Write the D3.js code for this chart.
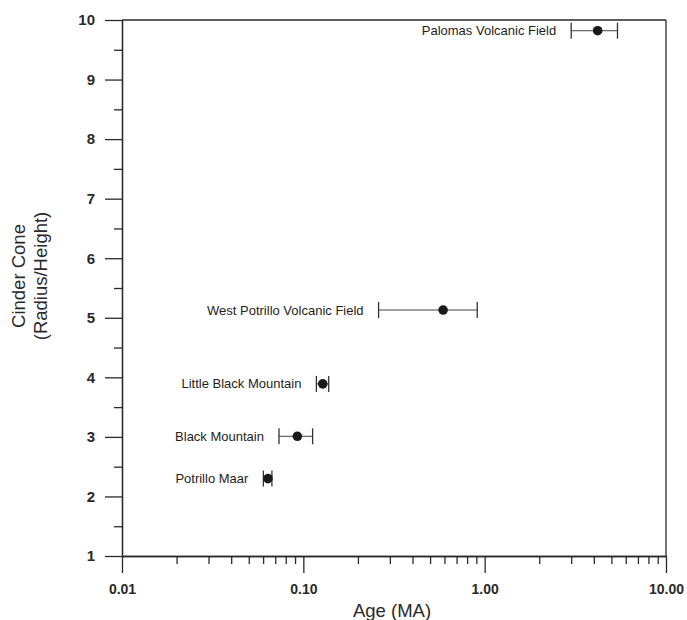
<!DOCTYPE html>
<html><head><meta charset="utf-8">
<script src="https://cdn.jsdelivr.net/npm/d3@7"></script>
<style>body{margin:0;background:#fff}svg{display:block}</style>
</head><body><svg id="c" width="687" height="620"></svg>
<script>
const names = ["Palomas Volcanic Field","West Potrillo Volcanic Field","Little Black Mountain","Black Mountain","Potrillo Maar"];
const ratio = [9.82, 5.13, 3.89, 3.01, 2.30];
const age = [4.2, 0.59, 0.128, 0.0927, 0.0638];
const ageLow = [3.0, 0.26, 0.118, 0.0734, 0.0602];
const ageHigh = [5.4, 0.91, 0.138, 0.1125, 0.0671];
const xMajor = [0.01, 0.1, 1, 10];
const xMajorLabels = ["0.01","0.10","1.00","10.00"];
const yMajor = [1,2,3,4,5,6,7,8,9,10];
const yMinor = [1.5,2.5,3.5,4.5,5.5,6.5,7.5,8.5,9.5];

const svg = d3.select("#c");
const x = d3.scaleLog().domain([0.01, 10]).range([122, 666]);
const y = d3.scaleLinear().domain([1, 10]).range([556, 20]);
const ink = "#2a2a2a";
const font = "Liberation Sans, Arial, sans-serif";

const xMinor = [];
[0.01, 0.1, 1].forEach(d => { for (let k = 2; k <= 9; k++) xMinor.push(d * k); });

// frame top & right
svg.append("line").attr("x1", x.range()[0]).attr("x2", x.range()[1]).attr("y1", y(10)).attr("y2", y(10)).attr("stroke", ink).attr("stroke-width", 1.3);
svg.append("line").attr("x1", x.range()[1]).attr("x2", x.range()[1]).attr("y1", y(10)).attr("y2", y(1)).attr("stroke", ink).attr("stroke-width", 1.3);

function style(g) {
  g.selectAll("path.domain").attr("stroke", ink).attr("stroke-width", 1.3);
  g.selectAll(".tick line").attr("stroke", ink).attr("stroke-width", 1.3);
  g.selectAll(".tick text").attr("fill", ink).attr("font-family", font).attr("font-weight", "bold");
}

// x axis
const gxMin = svg.append("g").attr("transform", `translate(0,${y(1)})`)
  .call(d3.axisBottom(x).tickValues(xMinor).tickSize(8).tickSizeOuter(0).tickFormat(""));
style(gxMin);
const gx = svg.append("g").attr("transform", `translate(0,${y(1)})`)
  .call(d3.axisBottom(x).tickValues(xMajor).tickSize(17).tickSizeOuter(0).tickPadding(11)
    .tickFormat((d, i) => xMajorLabels[i]));
style(gx);
gx.selectAll(".tick text").attr("font-size", 14);

// y axis
const gyMin = svg.append("g").attr("transform", `translate(${x(0.01)},0)`)
  .call(d3.axisLeft(y).tickValues(yMinor).tickSize(8).tickSizeOuter(0).tickFormat(""));
style(gyMin);
const gy = svg.append("g").attr("transform", `translate(${x(0.01)},0)`)
  .call(d3.axisLeft(y).tickValues(yMajor).tickSize(17).tickSizeOuter(0).tickPadding(10).tickFormat(d3.format("d")));
style(gy);
gy.selectAll(".tick text").attr("font-size", 15);

// titles
svg.append("text").attr("x", 392).attr("y", 617).attr("text-anchor", "middle")
  .attr("font-family", font).attr("font-size", 18.5).attr("fill", ink).text("Age (MA)");
const yt = svg.append("text").attr("transform", "translate(28,276) rotate(-90)").attr("text-anchor", "middle")
  .attr("font-family", font).attr("font-size", 18.5).attr("fill", ink);
yt.append("tspan").attr("x", 0).attr("dy", "-0.15em").text("Cinder Cone");
yt.append("tspan").attr("x", 0).attr("dy", "1.15em").text("(Radius/Height)");

// data
const data = names.map((n, i) => ({n, r: ratio[i], a: age[i], lo: ageLow[i], hi: ageHigh[i]}));
const g = svg.append("g");
const cap = 8;
data.forEach(d => {
  const cy = y(d.r);
  g.append("line").attr("x1", x(d.lo)).attr("x2", x(d.hi)).attr("y1", cy).attr("y2", cy).attr("stroke", "#444").attr("stroke-width", 1);
  [d.lo, d.hi].forEach(v => g.append("line").attr("x1", x(v)).attr("x2", x(v)).attr("y1", cy - cap).attr("y2", cy + cap).attr("stroke", "#333").attr("stroke-width", 1.3));
  g.append("circle").attr("cx", x(d.a)).attr("cy", cy).attr("r", 4.8).attr("fill", "#1a1a1a");
  g.append("text").attr("x", x(d.lo) - 15).attr("y", cy).attr("dy", "0.35em").attr("text-anchor", "end")
    .attr("font-family", font).attr("font-size", 13).attr("fill", "#1e1e1e").text(d.n);
});
</script></body></html>
